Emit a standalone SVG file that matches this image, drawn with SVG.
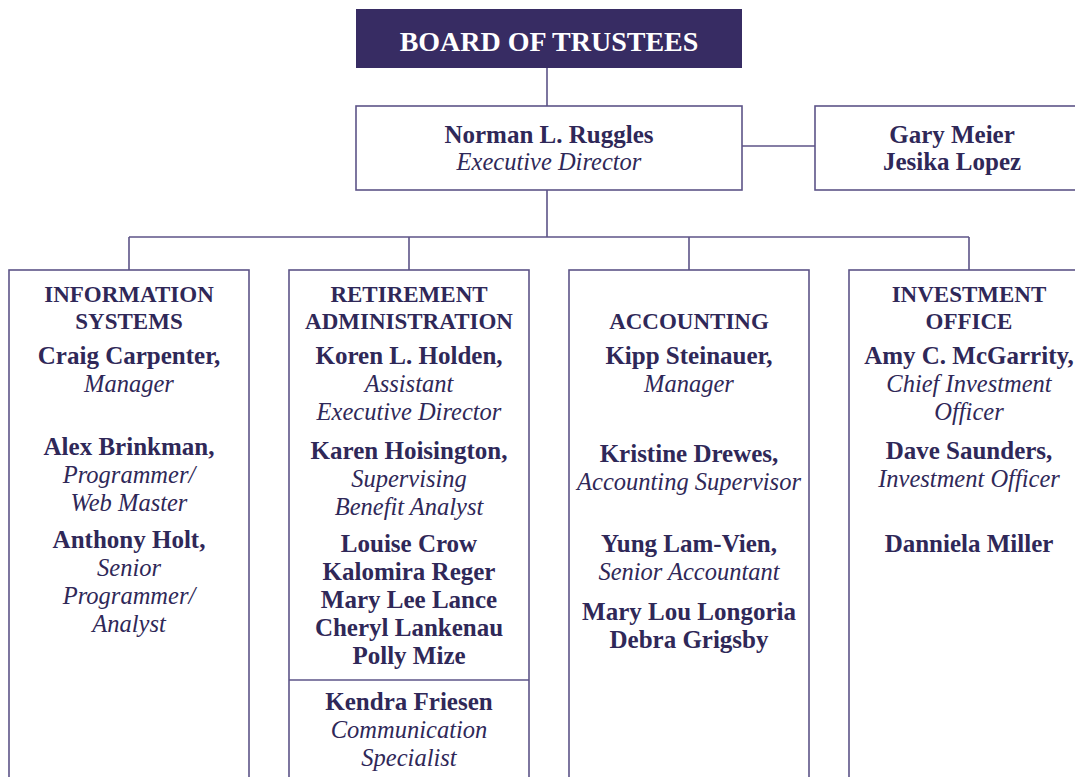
<svg xmlns="http://www.w3.org/2000/svg" width="1075" height="777" viewBox="0 0 1075 777">
<style>
.box{fill:#fff;stroke:#5d5488;stroke-width:1.6}
.ln{fill:none;stroke:#5d5488;stroke-width:1.6}
text{font-family:"Liberation Serif","Times New Roman",serif;fill:#2f2858;text-anchor:middle}
.b{font-weight:bold;font-size:25px}
.h{font-weight:bold;font-size:23px}
.i{font-style:italic;font-size:24.5px}
.t{font-weight:bold;font-size:28px;fill:#fff}
</style>
<rect width="1075" height="777" fill="#fff"/>
<g id="connectors">
<path class="ln" d="M547 68V106M742 146H815M547 190V237M129 237H969M129 237V270M409 237V270M689 237V270M969 237V270"/>
</g>
<g id="board">
<rect x="356" y="9" width="386" height="59" fill="#372c63"/>
<text class="t" x="549" y="51">BOARD OF TRUSTEES</text>
</g>
<g id="director">
<rect class="box" x="356" y="106" width="386" height="84"/>
<text class="b" x="549" y="143">Norman L. Ruggles</text>
<text class="i" x="549" y="170">Executive Director</text>
</g>
<g id="assistants">
<rect class="box" x="815" y="106" width="270" height="84"/>
<text class="b" x="952" y="143">Gary Meier</text>
<text class="b" x="952" y="170">Jesika Lopez</text>
</g>
<g id="info-systems">
<rect class="box" x="9" y="270" width="240" height="520"/>
<text class="h" x="129" y="302">INFORMATION</text>
<text class="h" x="129" y="329">SYSTEMS</text>
<text class="b" x="129" y="364">Craig Carpenter,</text>
<text class="i" x="129" y="392">Manager</text>
<text class="b" x="129" y="455">Alex Brinkman,</text>
<text class="i" x="129" y="483">Programmer/</text>
<text class="i" x="129" y="511">Web Master</text>
<text class="b" x="129" y="548">Anthony Holt,</text>
<text class="i" x="129" y="576">Senior</text>
<text class="i" x="129" y="604">Programmer/</text>
<text class="i" x="129" y="632">Analyst</text>
</g>
<g id="retirement-admin">
<rect class="box" x="289" y="270" width="240" height="520"/>
<text class="h" x="409" y="302">RETIREMENT</text>
<text class="h" x="409" y="329">ADMINISTRATION</text>
<text class="b" x="409" y="364">Koren L. Holden,</text>
<text class="i" x="409" y="392">Assistant</text>
<text class="i" x="409" y="420">Executive Director</text>
<text class="b" x="409" y="459">Karen Hoisington,</text>
<text class="i" x="409" y="487">Supervising</text>
<text class="i" x="409" y="515">Benefit Analyst</text>
<text class="b" x="409" y="552">Louise Crow</text>
<text class="b" x="409" y="580">Kalomira Reger</text>
<text class="b" x="409" y="608">Mary Lee Lance</text>
<text class="b" x="409" y="636">Cheryl Lankenau</text>
<text class="b" x="409" y="664">Polly Mize</text>
<path class="ln" d="M289 680H529"/>
<text class="b" x="409" y="710">Kendra Friesen</text>
<text class="i" x="409" y="738">Communication</text>
<text class="i" x="409" y="766">Specialist</text>
</g>
<g id="accounting">
<rect class="box" x="569" y="270" width="240" height="520"/>
<text class="h" x="689" y="329">ACCOUNTING</text>
<text class="b" x="689" y="364">Kipp Steinauer,</text>
<text class="i" x="689" y="392">Manager</text>
<text class="b" x="689" y="462">Kristine Drewes,</text>
<text class="i" x="689" y="490">Accounting Supervisor</text>
<text class="b" x="689" y="552">Yung Lam-Vien,</text>
<text class="i" x="689" y="580">Senior Accountant</text>
<text class="b" x="689" y="620">Mary Lou Longoria</text>
<text class="b" x="689" y="648">Debra Grigsby</text>
</g>
<g id="investment">
<rect class="box" x="849" y="270" width="240" height="520"/>
<text class="h" x="969" y="302">INVESTMENT</text>
<text class="h" x="969" y="329">OFFICE</text>
<text class="b" x="969" y="364">Amy C. McGarrity,</text>
<text class="i" x="969" y="392">Chief Investment</text>
<text class="i" x="969" y="420">Officer</text>
<text class="b" x="969" y="459">Dave Saunders,</text>
<text class="i" x="969" y="487">Investment Officer</text>
<text class="b" x="969" y="552">Danniela Miller</text>
</g>
</svg>
